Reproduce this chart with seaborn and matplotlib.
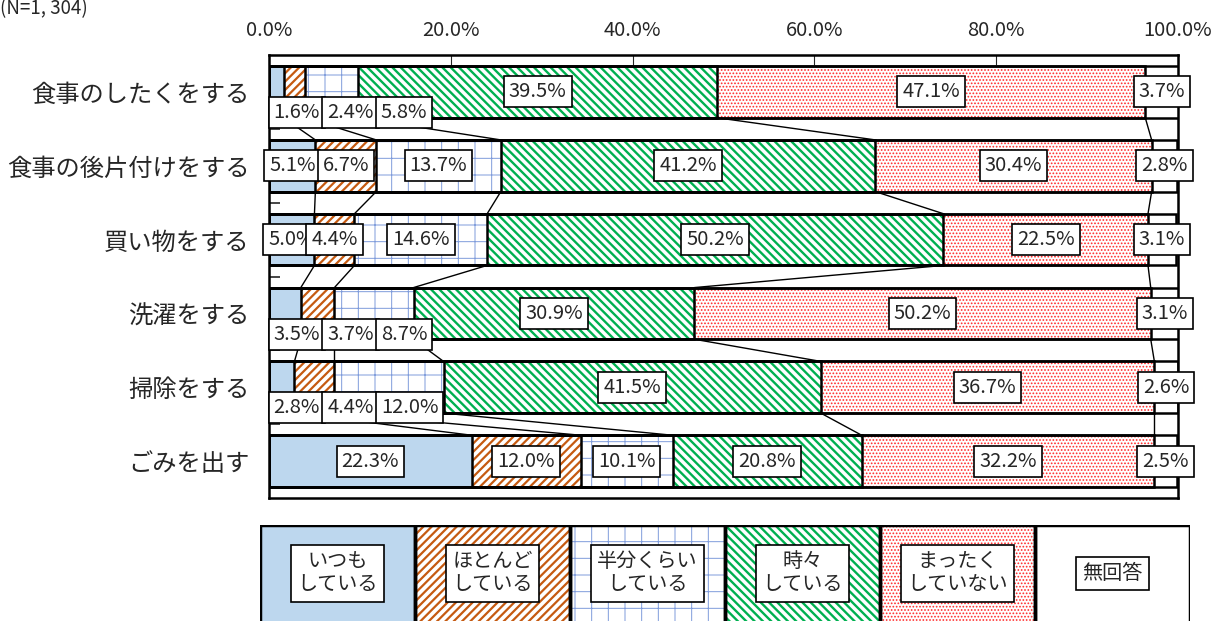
import matplotlib
matplotlib.use('Agg')
import matplotlib.pyplot as plt
import seaborn as sb
import numpy as np
import pandas as pd

categories = ['食事のしたくをする', '食事の後片付けをする', '買い物をする', '洗濯をする', '掃除をする', 'ごみを出す']
series_names = ['いつも\nしている', 'ほとんど\nしている', '半分くらい\nしている', '時々\nしている', 'まったく\nしていない', '無回答']
always = [1.6, 5.1, 5.0, 3.5, 2.8, 22.3]
mostly = [2.4, 6.7, 4.4, 3.7, 4.4, 12.0]
half = [5.8, 13.7, 14.6, 8.7, 12.0, 10.1]
sometimes = [39.5, 41.2, 50.2, 30.9, 41.5, 20.8]
never = [47.1, 30.4, 22.5, 50.2, 36.7, 32.2]
no_answer = [3.7, 2.8, 3.1, 3.1, 2.6, 2.5]
tick_values = [0, 20, 40, 60, 80, 100]
note = '(N=1, 304)'

# face colour, hatch, hatch colour, hatch width per series
styles = [
    ('#BDD7EE', '', '#BDD7EE', 1.0),
    ('white', '////', '#C55A11', 1.6),
    ('white', '+', '#7F9CDB', 0.7),
    ('white', '\\\\\\\\', '#00B050', 1.7),
    ('white', '.....', '#FF2a2a', 0.8),
    ('white', '', 'white', 1.0),
]

sb.set_style('white')
plt.rcParams['font.family'] = ['Noto Sans CJK JP', 'DejaVu Sans']
plt.rcParams['hatch.linewidth'] = 2.0


def style_patch(p, face, hatch, hc, hw):
    p.set_facecolor(face)
    p.set_edgecolor(hc)
    p.set_hatch(hatch)
    p.set_linewidth(0)
    if hasattr(p, 'set_hatch_linewidth'):
        p.set_hatch_linewidth(hw)


vals = np.array([always, mostly, half, sometimes, never, no_answer])
cum = np.cumsum(vals, axis=0)

fig = plt.figure(figsize=(12.2, 6.21), dpi=100)
ax = fig.add_axes([269 / 1220, 1 - 498 / 621, 909 / 1220, 443 / 621])

# fills, drawn longest first so shorter stacks cover them
for k in reversed(range(6)):
    n0 = len(ax.patches)
    sb.barplot(x=cum[k], y=categories, orient='h', width=0.7, saturation=1, ax=ax)
    for p in ax.patches[n0:]:
        style_patch(p, *styles[k])
        p.set_zorder(1)

# outlines
for k in range(6):
    n0 = len(ax.patches)
    sb.barplot(x=cum[k], y=categories, orient='h', width=0.7, saturation=1, ax=ax)
    for p in ax.patches[n0:]:
        p.set_facecolor('none')
        p.set_edgecolor('black')
        p.set_linewidth(1.8)
        p.set_zorder(2)

# series lines between bars
for k in range(5):
    for i in range(5):
        ax.plot([cum[k][i], cum[k][i + 1]], [i + 0.35, i + 0.65], color='black', lw=1, zorder=2)

# value labels
box = dict(boxstyle='square,pad=0.25', fc='white', ec='black', lw=1.2)
for i in range(6):
    for k in range(6):
        v = vals[k][i]
        if i in (0, 3, 4) and k < 3:
            ax.text(0.5 + 5.9 * k, i + 0.28, f'{v:.1f}%', ha='left', va='center',
                    fontsize=14.5, bbox=box, zorder=5)
        else:
            ax.text(cum[k][i] - v / 2, i, f'{v:.1f}%', ha='center', va='center',
                    fontsize=14.5, bbox=box, zorder=5)

ax.set_xlim(0, 100)
ax.set_ylim(5.5, -0.5)
ax.xaxis.set_ticks_position('top')
ax.set_xticks(tick_values, [f'{t:.1f}%' for t in tick_values])
ax.tick_params(axis='x', direction='in', length=7, pad=10, labelsize=14.5, top=True, bottom=False)
ax.tick_params(axis='y', which='major', length=0, pad=14, labelsize=17.5)
ax.set_yticks([0.5, 1.5, 2.5, 3.5, 4.5], minor=True)
ax.tick_params(axis='y', which='minor', direction='in', length=8, width=1.2, left=True)
ax.set_xlabel('')
ax.set_ylabel('')
for s in ax.spines.values():
    s.set_linewidth(1.8)
    s.set_color('black')

fig.text(0.0, 1 - 9 / 621, note, ha='left', va='center', fontsize=13.5)

# legend row
lax = fig.add_axes([260 / 1220, -0.05, 930 / 1220, 96 / 621 + 0.05])
n0 = len(lax.patches)
sb.barplot(x=list(range(6)), y=[1] * 6, width=1, saturation=1, ax=lax)
for p, st in zip(lax.patches[n0:], styles):
    style_patch(p, *st)
n0 = len(lax.patches)
sb.barplot(x=list(range(6)), y=[1] * 6, width=1, saturation=1, ax=lax)
for p in lax.patches[n0:]:
    p.set_facecolor('none')
    p.set_edgecolor('black')
    p.set_linewidth(2.5)
lax.set_xlim(-0.5, 5.5)
lax.set_ylim(0, 1)
lax.axis('off')
for k, name in enumerate(series_names):
    lax.text(k, 0.62, name, ha='center', va='center', fontsize=14.5, linespacing=1.15,
             bbox=dict(boxstyle='square,pad=0.3', fc='white', ec='black', lw=1.2))

fig.savefig('out.png', dpi=100)
